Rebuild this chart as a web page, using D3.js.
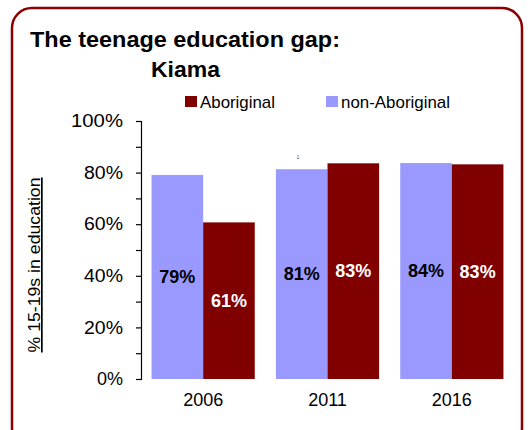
<!DOCTYPE html>
<html><head><meta charset="utf-8">
<script src="https://cdn.jsdelivr.net/npm/d3@7"></script>
<style>body{margin:0;background:#fff}svg{display:block;font-family:"Liberation Sans",Arial,sans-serif}</style>
</head><body>
<script>
const years = ["2006", "2011", "2016"];
const nonAboriginal = [79.1, 81.3, 83.7];
const aboriginal = [60.7, 83.6, 83.2];
const labelsNon = ["79%", "81%", "84%"];
const labelsAbo = ["61%", "83%", "83%"];
const yTicks = [0, 20, 40, 60, 80, 100];
const seriesNames = ["Aboriginal", "non-Aboriginal"];

const W = 531, H = 430;
const svg = d3.select("body").append("svg").attr("width", W).attr("height", H);

svg.append("rect").attr("x", 12).attr("y", 8).attr("width", 510).attr("height", 440)
  .attr("rx", 20).attr("fill", "#fff").attr("stroke", "#8B0000").attr("stroke-width", 2.5);

const y = d3.scaleLinear().domain([0, 100]).range([379, 121]);
const x = d3.scaleBand().domain(years).range([141, 514]).paddingInner(0.17).paddingOuter(0.085);
const xs = d3.scaleBand().domain(["non", "abo"]).range([0, x.bandwidth()]);

// axis
const ax = svg.append("g").attr("transform", "translate(141,0)")
  .call(d3.axisLeft(y).tickValues(d3.range(0, 101, 10)).tickSize(5).tickFormat(d => yTicks.includes(d) ? d + "%" : ""));
ax.select(".domain").attr("stroke", "#000").attr("stroke-width", 1.2);
ax.selectAll(".tick line").attr("stroke", "#000").attr("stroke-width", 1.2);
ax.selectAll(".tick text").attr("x", -18).attr("font-size", 18).attr("fill", "#000")
  .attr("font-family", "Liberation Sans, Arial, sans-serif")
  .each(function () {
    const t = d3.select(this), s = t.text();
    if (s) t.attr("textLength", s.length * 13).attr("lengthAdjust", "spacingAndGlyphs");
  });

const g = svg.append("g");
years.forEach((yr, i) => {
  const x0 = x(yr);
  g.append("rect").attr("x", x0 + xs("non")).attr("y", y(nonAboriginal[i]))
    .attr("width", xs.bandwidth()).attr("height", y(0) - y(nonAboriginal[i])).attr("fill", "#9999FF");
  g.append("rect").attr("x", x0 + xs("abo")).attr("y", y(aboriginal[i]))
    .attr("width", xs.bandwidth()).attr("height", y(0) - y(aboriginal[i])).attr("fill", "#800000");
  g.append("text").attr("x", x0 + xs("non") + xs.bandwidth() / 2)
    .attr("y", (y(nonAboriginal[i]) + y(0)) / 2).attr("dy", "0.35em")
    .attr("text-anchor", "middle").attr("font-weight", "bold").attr("font-size", 18).attr("fill", "#000").text(labelsNon[i]);
  g.append("text").attr("x", x0 + xs("abo") + xs.bandwidth() / 2)
    .attr("y", (y(aboriginal[i]) + y(0)) / 2).attr("dy", "0.35em")
    .attr("text-anchor", "middle").attr("font-weight", "bold").attr("font-size", 18).attr("fill", "#fff").text(labelsAbo[i]);
  svg.append("text").attr("x", x0 + x.bandwidth() / 2).attr("y", 406)
    .attr("text-anchor", "middle").attr("font-size", 18).attr("fill", "#000").text(yr);
});

// tiny artifact
svg.append("text").attr("x", 298).attr("y", 159).attr("text-anchor", "middle")
  .attr("font-size", 5).attr("fill", "#444").text("1");

// title
svg.append("text").attr("x", 30).attr("y", 47).attr("font-size", 22).attr("font-weight", "bold")
  .attr("textLength", 310).attr("lengthAdjust", "spacingAndGlyphs").text("The teenage education gap:");
svg.append("text").attr("x", 151).attr("y", 77).attr("font-size", 22).attr("font-weight", "bold")
  .attr("textLength", 69).attr("lengthAdjust", "spacingAndGlyphs").text("Kiama");

// legend
const legColors = ["#800000", "#9999FF"];
const legX = [185, 326];
seriesNames.forEach((n, i) => {
  svg.append("rect").attr("x", legX[i]).attr("y", 96).attr("width", 12).attr("height", 11).attr("fill", legColors[i]);
  svg.append("text").attr("x", legX[i] + 15).attr("y", 108).attr("font-size", 17)
    .attr("textLength", i === 0 ? 75 : 109).attr("lengthAdjust", "spacingAndGlyphs").text(n);
});

// y title
svg.append("text").attr("transform", "translate(40,265) rotate(-90)").attr("text-anchor", "middle")
  .attr("font-size", 17).attr("text-decoration", "underline")
  .attr("textLength", 175).attr("lengthAdjust", "spacingAndGlyphs").text("% 15-19s in education");
</script>
</body></html>
